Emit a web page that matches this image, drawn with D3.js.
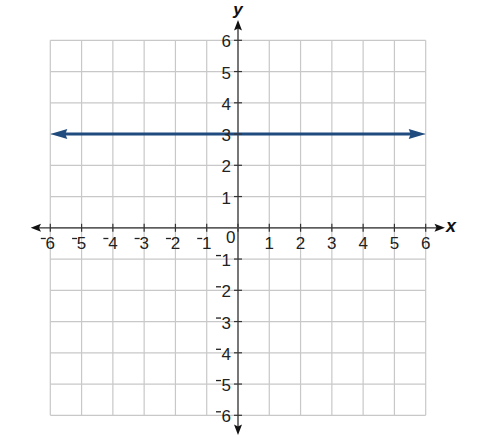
<!DOCTYPE html>
<html>
<head>
<meta charset="utf-8">
<script src="https://cdn.jsdelivr.net/npm/d3@7"></script>
<style>
  html, body { margin: 0; padding: 0; background: #fff; }
  svg { display: block; }
</style>
</head>
<body>
<svg width="487" height="438"></svg>
<script>
// tick values on both axes
var xTicks = [-6, -5, -4, -3, -2, -1, 1, 2, 3, 4, 5, 6];
var yTicks = [-6, -5, -4, -3, -2, -1, 1, 2, 3, 4, 5, 6];
var gridVals = [-6, -5, -4, -3, -2, -1, 0, 1, 2, 3, 4, 5, 6];

// the plotted line y = 3
var lineX = [-6, 6];
var lineY = [3, 3];

var svg = d3.select("svg");

var x = d3.scaleLinear().domain([-6, 6]).range([50.3, 425.7]);
var y = d3.scaleLinear().domain([-6, 6]).range([415.3, 40.3]);

var font = "'Liberation Sans', Arial, sans-serif";

// grid
var grid = svg.append("g").attr("stroke", "#c8c8c8").attr("stroke-width", 1.2);
grid.selectAll(".gx").data(gridVals).join("line")
  .attr("x1", d => x(d)).attr("x2", d => x(d))
  .attr("y1", y(-6)).attr("y2", y(6));
grid.selectAll(".gy").data(gridVals).join("line")
  .attr("y1", d => y(d)).attr("y2", d => y(d))
  .attr("x1", x(-6)).attr("x2", x(6));

// x axis
var x0 = x(0), y0 = y(0);
svg.append("line")
  .attr("x1", 36).attr("x2", 438)
  .attr("y1", y0).attr("y2", y0)
  .attr("stroke", "#333").attr("stroke-width", 1.3);
svg.append("path").attr("fill", "#111")
  .attr("d", `M30.7,${y0} L41,${y0 - 4} L39,${y0} L41,${y0 + 4}Z`);
svg.append("path").attr("fill", "#111")
  .attr("d", `M445,${y0} L434.5,${y0 - 4} L436.5,${y0} L434.5,${y0 + 4}Z`);

// y axis
svg.append("line")
  .attr("x1", x0).attr("x2", x0)
  .attr("y1", 26).attr("y2", 430)
  .attr("stroke", "#777").attr("stroke-width", 2);
svg.append("path").attr("fill", "#111")
  .attr("d", `M${x0},20 L${x0 - 4},30.5 L${x0},28.5 L${x0 + 4},30.5Z`);
svg.append("path").attr("fill", "#111")
  .attr("d", `M${x0},435 L${x0 - 4},424.5 L${x0},426.5 L${x0 + 4},424.5Z`);

// the plotted line
var lineData = d3.zip(lineX, lineY);
var lg = svg.append("g");
lg.append("line")
  .attr("x1", x(lineX[0]) + 12).attr("x2", x(lineX[1]) - 12)
  .attr("y1", y(lineY[0])).attr("y2", y(lineY[1]))
  .attr("stroke", "#1f4b7e").attr("stroke-width", 3);
lg.selectAll("path").data(lineData).join("path")
  .attr("fill", "#1f4b7e")
  .attr("d", (d, i) => {
    var px = x(d[0]), py = y(d[1]), s = i === 0 ? 1 : -1;
    return `M${px},${py} L${px + s * 17},${py - 5} L${px + s * 15},${py} L${px + s * 17},${py + 5}Z`;
  });

// ticks
var tk = svg.append("g").attr("stroke", "#333").attr("stroke-width", 1.2);
tk.selectAll(".tx").data(xTicks.concat([0])).join("line")
  .attr("x1", d => x(d)).attr("x2", d => x(d))
  .attr("y1", y0 - 4).attr("y2", y0 + 4);
tk.selectAll(".ty").data(yTicks).join("line")
  .attr("y1", d => y(d)).attr("y2", d => y(d))
  .attr("x1", x0 - 4).attr("x2", x0 + 4);

// tick labels
var lab = svg.append("g").attr("font-family", font).attr("font-size", 17).attr("fill", "#222");

lab.selectAll(".lx").data(xTicks).join("g").each(function(d) {
  var g = d3.select(this);
  g.append("text").attr("x", x(d)).attr("y", 249).attr("text-anchor", "middle").text(Math.abs(d));
  if (d < 0) {
    g.append("line").attr("x1", x(d) - 9.5).attr("x2", x(d) - 4.5)
      .attr("y1", 238.5).attr("y2", 238.5).attr("stroke", "#222").attr("stroke-width", 1.3);
  }
});

lab.selectAll(".ly").data(yTicks).join("g").each(function(d) {
  var g = d3.select(this);
  var by = y(d) + 7;
  g.append("text").attr("x", 231).attr("y", by).attr("text-anchor", "end").text(Math.abs(d));
  if (d < 0) {
    g.append("line").attr("x1", 231 - 9.5 - 5.5).attr("x2", 231 - 9.5 - 0.5)
      .attr("y1", by - 10.5).attr("y2", by - 10.5).attr("stroke", "#222").attr("stroke-width", 1.3);
  }
});

lab.append("text").attr("x", 230.7).attr("y", 243.3).attr("text-anchor", "middle").text("0");

// axis names
svg.append("text").attr("x", 451).attr("y", 232).attr("text-anchor", "middle")
  .attr("font-family", font).attr("font-size", 18).attr("font-weight", "bold").attr("font-style", "italic")
  .attr("fill", "#111").text("x");
svg.append("text").attr("x", 238).attr("y", 15).attr("text-anchor", "middle")
  .attr("font-family", font).attr("font-size", 17).attr("font-weight", "bold").attr("font-style", "italic")
  .attr("fill", "#111").text("y");
</script>
</body>
</html>
